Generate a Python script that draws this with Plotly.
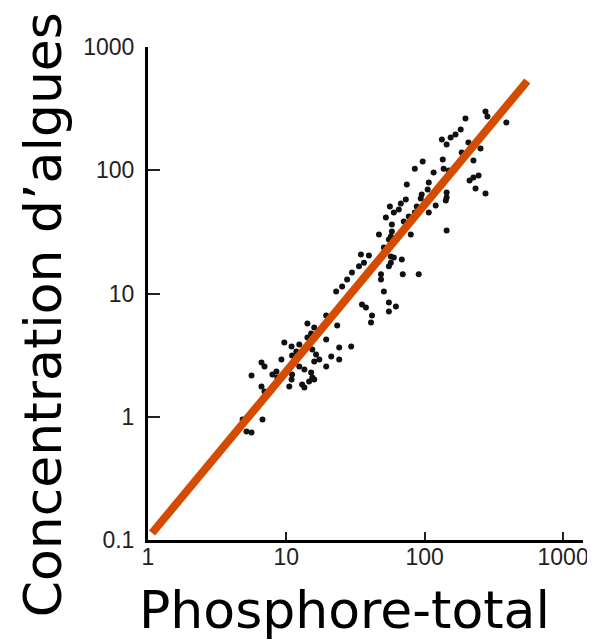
import plotly.graph_objects as go

# Data (Phosphore-total vs Concentration d'algues)
phosphore = [275, 284, 197, 389, 182, 167, 154, 133, 144, 207, 253, 185, 225, 135, 96.7, 84.8,
             116, 137, 149, 245, 225, 211, 107, 74.2, 233, 275, 126, 105, 95.1, 93.6, 144, 144,
             142, 120, 107, 87.6, 84.8, 73.0, 67.2, 65.0, 56.0, 59.8, 52.4, 76.7, 70.6, 57.9,
             144, 79.3, 57.9, 56.9, 55.1, 46.7, 50.7, 56.9, 56.9, 55.1, 68.3, 59.8, 34.6, 39.5,
             36.4, 33.5, 29.8, 27.5, 48.3, 48.3, 69.4, 90.5, 25.3, 22.9, 50.7, 55.1, 61.9, 55.1,
             35.2, 37.6, 41.6, 40.9, 28.4,
             19.4, 23.3, 14.2, 15.9, 15.1, 14.2, 19.4, 9.67, 10.9, 12.4, 24.1, 29.4, 11.8, 11.0,
             12.0, 15.4, 16.4, 17.3, 15.9, 21.1, 24.1, 9.21, 19.4, 6.61, 6.95, 12.4, 13.5, 8.48,
             7.93, 8.61, 9.36, 5.60, 11.0, 10.9, 15.1, 15.4, 14.6, 15.9, 13.0, 13.5, 6.61, 6.95,
             10.5, 4.83, 5.24, 6.72, 5.15, 5.60]
algues = [300, 273, 263, 244, 214, 195, 184, 178, 162, 168, 150, 139, 120, 122, 118, 103,
          95.9, 103, 99.5, 90.7, 87.3, 82.6, 79.5, 76.6, 71.1, 64.8, 72.4, 69.8, 63.6, 59.0, 66.0, 60.1,
          56.9, 51.8, 45.4, 50.8, 45.4, 57.9, 53.7, 48.0, 50.8, 45.4, 41.4, 42.1, 38.4, 36.3,
          32.4, 30.1, 31.8, 29.0, 27.4, 30.1, 23.6, 20.0, 17.8, 16.6, 18.9, 19.6, 20.7, 20.3,
          17.8, 16.6, 14.8, 13.0, 14.3, 13.0, 14.3, 14.3, 11.4, 10.4, 10.4, 8.45, 7.84, 7.14,
          8.14, 7.70, 6.63, 5.82, 9.81,
          6.63, 5.50, 5.71, 5.30, 4.74, 4.40, 4.24, 4.00, 3.72, 3.86, 3.65, 3.72, 3.38, 3.14,
          3.03, 3.51, 3.20, 2.91, 2.81, 3.08, 2.91, 2.91, 2.56, 2.76, 2.56, 2.56, 2.42, 2.33,
          2.20, 2.08, 2.12, 2.16, 2.20, 2.01, 2.29, 2.08, 1.93, 2.01, 1.83, 1.73, 1.76, 1.60,
          1.76, 0.950, 0.986, 0.950, 0.759, 0.745]

# Regression line endpoints
fit_x = [1.07, 551]
fit_y = [0.114, 530]

x_ticks = [1, 10, 100, 1000]
x_ticktext = ["1", "10", "100", "1000"]
y_ticks = [0.1, 1, 10, 100, 1000]
y_ticktext = ["0.1", "1", "10", "100", "1000"]

fig = go.Figure()
fig.add_trace(go.Scatter(x=phosphore, y=algues, mode="markers",
                         marker=dict(color="#111111", size=6), hoverinfo="skip"))
fig.add_trace(go.Scatter(x=fit_x, y=fit_y, mode="lines",
                         line=dict(color="#D54B00", width=8), hoverinfo="skip"))

tickfont = dict(family="Liberation Sans", size=23, color="#222222")
fig.update_xaxes(type="log", range=[0, 3.144], showline=True, linecolor="black", linewidth=3,
                 ticks="inside", ticklen=8, tickwidth=1.5, tickcolor="#222222",
                 tickvals=x_ticks, ticktext=x_ticktext, tickfont=tickfont,
                 showgrid=False, zeroline=False, ticklabelstandoff=-6)
fig.update_yaxes(type="log", range=[-1, 3], showline=True, linecolor="black", linewidth=3,
                 ticks="inside", ticklen=12, tickwidth=1.5, tickcolor="#222222",
                 tickvals=y_ticks, ticktext=y_ticktext, tickfont=tickfont,
                 showgrid=False, zeroline=False, ticklabelstandoff=6)

title_font = dict(family="DejaVu Sans", size=52, color="black")
fig.update_layout(
    width=587, height=635,
    margin=dict(l=140, r=7, t=39, b=103),
    plot_bgcolor="white", paper_bgcolor="white",
    showlegend=False,
    annotations=[
        dict(text="Phosphore-total", xref="paper", yref="paper", x=0.452, y=-0.142,
             xanchor="center", yanchor="middle", showarrow=False, font=title_font),
        dict(text="Concentration d’algues", xref="paper", yref="paper", x=-0.241, y=0.456,
             xanchor="center", yanchor="middle", textangle=-90, showarrow=False, font=title_font),
    ],
)

fig.write_html("out.html")
